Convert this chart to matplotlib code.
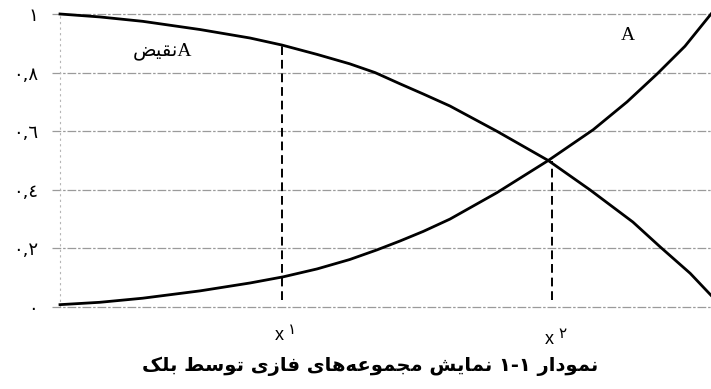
import matplotlib
matplotlib.use("Agg")
import matplotlib.pyplot as plt

# Values (x normalised 0..1 over the plot width)
A_X = [0.0, 0.061, 0.127, 0.215, 0.292, 0.343, 0.395, 0.445, 0.487, 0.522, 0.558,
       0.599, 0.671, 0.750, 0.819, 0.871, 0.917, 0.960, 1.0]
A_Y = [0.008, 0.016, 0.03, 0.055, 0.082, 0.103, 0.13, 0.162, 0.195, 0.225, 0.258,
       0.30, 0.39, 0.50, 0.605, 0.70, 0.795, 0.89, 1.0]

NOT_A_X = [0.0, 0.061, 0.127, 0.215, 0.292, 0.341, 0.395, 0.445, 0.484, 0.522, 0.558,
           0.599, 0.671, 0.750, 0.814, 0.880, 0.922, 0.968, 1.0]
NOT_A_Y = [1.0, 0.99, 0.975, 0.947, 0.918, 0.894, 0.862, 0.83, 0.80, 0.762, 0.727,
           0.686, 0.60, 0.50, 0.40, 0.29, 0.205, 0.115, 0.04]

X_MARKS = [0.341, 0.756]
X_MARK_DIGITS = ["١", "٢"]
Y_TICKS = [0, 0.2, 0.4, 0.6, 0.8, 1.0]
Y_TICK_LABELS = ["٠", "٠,٢", "٠,٤", "٠,٦", "٠,٨", "١"]

TITLE = "نمودار ١-١ نمایش مجموعه‌های فازی توسط بلک"
NOT_A_WORD = "نقیض"

# matplotlib has no arabic shaping, so pick presentation forms by hand
# (isolated, final, initial, medial); None = letter does not join to the left
FORMS = {
    "ا": ("\uFE8D", "\uFE8E", None, None),
    "ب": ("\uFE8F", "\uFE90", "\uFE91", "\uFE92"),
    "ت": ("\uFE95", "\uFE96", "\uFE97", "\uFE98"),
    "ج": ("\uFE9D", "\uFE9E", "\uFE9F", "\uFEA0"),
    "د": ("\uFEA9", "\uFEAA", None, None),
    "ر": ("\uFEAD", "\uFEAE", None, None),
    "ز": ("\uFEAF", "\uFEB0", None, None),
    "س": ("\uFEB1", "\uFEB2", "\uFEB3", "\uFEB4"),
    "ش": ("\uFEB5", "\uFEB6", "\uFEB7", "\uFEB8"),
    "ض": ("\uFEBD", "\uFEBE", "\uFEBF", "\uFEC0"),
    "ط": ("\uFEC1", "\uFEC2", "\uFEC3", "\uFEC4"),
    "ع": ("\uFEC9", "\uFECA", "\uFECB", "\uFECC"),
    "ف": ("\uFED1", "\uFED2", "\uFED3", "\uFED4"),
    "ق": ("\uFED5", "\uFED6", "\uFED7", "\uFED8"),
    "ک": ("\uFB8E", "\uFB8F", "\uFB90", "\uFB91"),
    "ل": ("\uFEDD", "\uFEDE", "\uFEDF", "\uFEE0"),
    "م": ("\uFEE1", "\uFEE2", "\uFEE3", "\uFEE4"),
    "ن": ("\uFEE5", "\uFEE6", "\uFEE7", "\uFEE8"),
    "ه": ("\uFEE9", "\uFEEA", "\uFEEB", "\uFEEC"),
    "و": ("\uFEED", "\uFEEE", None, None),
    "ی": ("\uFEEF", "\uFEF0", "\uFEF3", "\uFEF4"),
}


def rtl(text):
    out = []
    for i, ch in enumerate(text):
        if ch not in FORMS:
            if ch != "\u200c":
                out.append(ch)
            continue
        prev = text[i - 1] if i > 0 else None
        nxt = text[i + 1] if i + 1 < len(text) else None
        join_prev = prev in FORMS and FORMS[prev][2] is not None
        join_next = FORMS[ch][2] is not None and nxt in FORMS
        iso, fin, ini, med = FORMS[ch]
        if join_prev and join_next:
            out.append(med)
        elif join_prev:
            out.append(fin)
        elif join_next:
            out.append(ini)
        else:
            out.append(iso)
    return "".join(out)[::-1]


W, H = 711, 389
fig = plt.figure(figsize=(W / 100, H / 100), dpi=100)
ax = fig.add_axes([52 / W, 1 - 307 / H, 1 - 52 / W, (307 - 14) / H])

ax.set_xlim(-8 / 651, 1.0)
ax.set_ylim(0, 1)
for s in ax.spines.values():
    s.set_visible(False)

grid_kw = dict(color="#9a9a9a", lw=0.9, ls=(0, (7, 1.5, 2, 1.5)), zorder=1)
for y in Y_TICKS:
    ax.axhline(y, clip_on=False, **grid_kw)
ax.axvline(0, color="#b5b5b5", lw=0.8, ls=(0, (2, 3)), zorder=1)

ax.plot(A_X, A_Y, color="black", lw=2.0, clip_on=False, zorder=3, solid_joinstyle="round")
ax.plot(NOT_A_X, NOT_A_Y, color="black", lw=2.0, clip_on=False, zorder=3, solid_joinstyle="round")

# dashed drop lines: x1 up to the falling curve, x2 up to the crossing
dash = (0, (4.5, 2.5))
ax.vlines(X_MARKS[0], 0.025, NOT_A_Y[5], colors="black", lw=1.4, linestyles=dash, zorder=2)
ax.vlines(X_MARKS[1], 0.025, A_Y[13], colors="black", lw=1.4, linestyles=dash, zorder=2)

ax.set_yticks(Y_TICKS)
ax.set_yticklabels(Y_TICK_LABELS, fontsize=13, family="DejaVu Sans")
ax.tick_params(axis="y", length=0, pad=10)
ax.set_xticks([])

# x labels with raised arabic digit
for i, (xm, d) in enumerate(zip(X_MARKS, X_MARK_DIGITS)):
    drop = 29 + 4 * i
    ax.annotate("x", xy=(xm, 0), xytext=(-3, -drop), textcoords="offset pixels",
                fontsize=13, family="Liberation Sans", ha="center", va="center")
    ax.annotate(d, xy=(xm, 0), xytext=(6, -drop + 6), textcoords="offset pixels",
                fontsize=11, family="DejaVu Sans", ha="left", va="center")

ax.text(0.872, 0.925, "A", fontsize=14, family="Liberation Serif", ha="center", va="center")
ax.text(0.158, 0.872, rtl(NOT_A_WORD) + "A", fontsize=14,
        family=["Liberation Serif", "DejaVu Sans"], ha="center", va="center")

fig.text(370 / W, 1 - 366 / H, rtl(TITLE), fontsize=14, fontweight="bold",
         family="DejaVu Sans", ha="center", va="center")

fig.savefig("out.png", dpi=100, facecolor="white")
